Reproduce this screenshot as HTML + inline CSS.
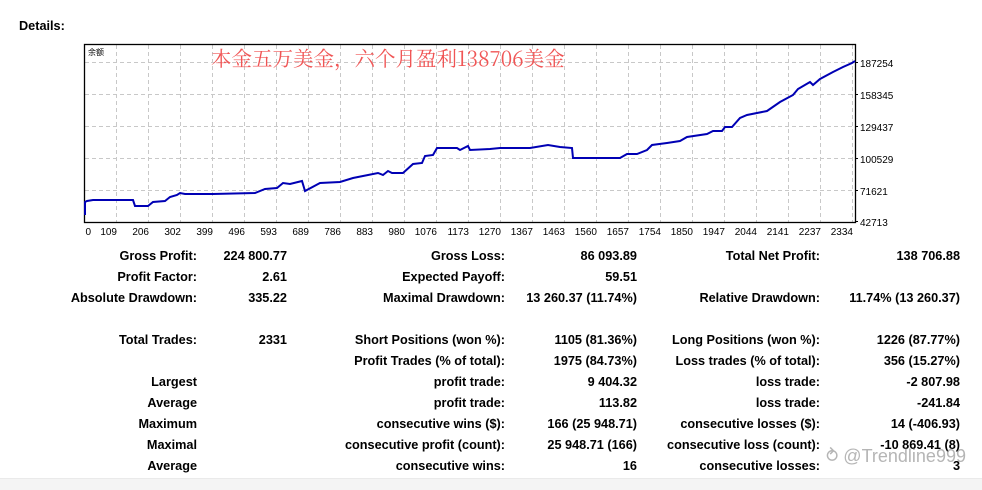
<!DOCTYPE html>
<html><head><meta charset="utf-8"><style>
body{margin:0;width:982px;height:489px;background:#fff;position:relative;overflow:hidden;font-family:"Liberation Sans","DejaVu Sans",sans-serif;}
.t{position:absolute;font-weight:bold;font-size:12.7px;color:#000;white-space:nowrap;line-height:14px;}
.r{text-align:right;}
</style></head><body>
<div class="t" style="left:19px;top:19px;">Details:</div>
<svg style="position:absolute;left:0;top:0" width="982" height="240" font-family="Liberation Sans, sans-serif">
<g stroke="#c8c8c8" stroke-dasharray="4,3" stroke-width="1">
<line x1="85" y1="62.5" x2="855" y2="62.5"/><line x1="85" y1="94.5" x2="855" y2="94.5"/><line x1="85" y1="126.5" x2="855" y2="126.5"/><line x1="85" y1="158.5" x2="855" y2="158.5"/><line x1="85" y1="190.5" x2="855" y2="190.5"/>
<line x1="116.5" y1="45" x2="116.5" y2="222"/><line x1="148.5" y1="45" x2="148.5" y2="222"/><line x1="180.5" y1="45" x2="180.5" y2="222"/><line x1="212.5" y1="45" x2="212.5" y2="222"/><line x1="244.5" y1="45" x2="244.5" y2="222"/><line x1="276.5" y1="45" x2="276.5" y2="222"/><line x1="308.5" y1="45" x2="308.5" y2="222"/><line x1="340.5" y1="45" x2="340.5" y2="222"/><line x1="372.5" y1="45" x2="372.5" y2="222"/><line x1="404.5" y1="45" x2="404.5" y2="222"/><line x1="436.5" y1="45" x2="436.5" y2="222"/><line x1="468.5" y1="45" x2="468.5" y2="222"/><line x1="500.5" y1="45" x2="500.5" y2="222"/><line x1="532.5" y1="45" x2="532.5" y2="222"/><line x1="564.5" y1="45" x2="564.5" y2="222"/><line x1="596.5" y1="45" x2="596.5" y2="222"/><line x1="628.5" y1="45" x2="628.5" y2="222"/><line x1="660.5" y1="45" x2="660.5" y2="222"/><line x1="692.5" y1="45" x2="692.5" y2="222"/><line x1="724.5" y1="45" x2="724.5" y2="222"/><line x1="756.5" y1="45" x2="756.5" y2="222"/><line x1="788.5" y1="45" x2="788.5" y2="222"/><line x1="820.5" y1="45" x2="820.5" y2="222"/><line x1="852.5" y1="45" x2="852.5" y2="222"/>
</g>
<rect x="84.5" y="44.5" width="771" height="178" fill="none" stroke="#000" stroke-width="1.3"/>
<g stroke="#000"><line x1="855" y1="62.5" x2="858" y2="62.5"/><line x1="855" y1="94.5" x2="858" y2="94.5"/><line x1="855" y1="126.5" x2="858" y2="126.5"/><line x1="855" y1="158.5" x2="858" y2="158.5"/><line x1="855" y1="190.5" x2="858" y2="190.5"/><line x1="855" y1="221.5" x2="858" y2="221.5"/></g>
<polyline fill="none" stroke="#0000b4" stroke-width="2" points="85,215 85,202 87,201 93,200 133,200 135,206 148,206 153,202 165,201 170,197 177,195 180,193 185,194 213,194 255,193 265,189 277,188 283,183 290,184 302,181 305,191 320,183 340,182 353,178 363,176 378,173 383,175 388,171 392,173 403,173 413,164 422,163 425,156 433,155 437,148 457,148 460,150 468,146 470,150 490,149 500,148 530,148 548,145 560,147 572,148 573,158 620,158 627,154 637,154 647,150 652,145 667,143 680,141 687,137 707,134 713,131 722,131 725,127 732,127 740,118 747,115 767,111 780,102 793,95 798,89 810,82 813,85 820,79 833,72 843,67 852,63 855,61"/>
<text x="88" y="55" font-size="8" fill="#000">余额</text>
<text x="211" y="66" font-size="20.5" fill="#f05555" font-family="Noto Serif CJK SC, serif">本金五万美金，六个月盈利138706美金</text>
<g font-size="10" fill="#000">
<text x="860" y="67">187254</text><text x="860" y="99">158345</text><text x="860" y="131">129437</text><text x="860" y="163">100529</text><text x="860" y="195">71621</text><text x="860" y="226">42713</text>
</g>
<g font-size="10" fill="#000" text-anchor="end">
<text x="91" y="235">0</text><text x="117" y="235">109</text><text x="149" y="235">206</text><text x="181" y="235">302</text><text x="213" y="235">399</text><text x="245" y="235">496</text><text x="277" y="235">593</text><text x="309" y="235">689</text><text x="341" y="235">786</text><text x="373" y="235">883</text><text x="405" y="235">980</text><text x="437" y="235">1076</text><text x="469" y="235">1173</text><text x="501" y="235">1270</text><text x="533" y="235">1367</text><text x="565" y="235">1463</text><text x="597" y="235">1560</text><text x="629" y="235">1657</text><text x="661" y="235">1754</text><text x="693" y="235">1850</text><text x="725" y="235">1947</text><text x="757" y="235">2044</text><text x="789" y="235">2141</text><text x="821" y="235">2237</text><text x="853" y="235">2334</text>
</g>
</svg>
<div style="position:absolute;left:0;top:478px;width:982px;height:11px;background:#f4f4f4;border-top:1px solid #eaeaea"></div>
<div style="position:absolute;left:0;top:249px;width:982px;">
<div class="t r" style="right:785px;top:0">Gross Profit:</div><div class="t r" style="right:695px;top:0">224 800.77</div>
<div class="t r" style="right:477px;top:0">Gross Loss:</div><div class="t r" style="right:345px;top:0">86 093.89</div>
<div class="t r" style="right:162px;top:0">Total Net Profit:</div><div class="t r" style="right:22px;top:0">138 706.88</div>

<div class="t r" style="right:785px;top:21px">Profit Factor:</div><div class="t r" style="right:695px;top:21px">2.61</div>
<div class="t r" style="right:477px;top:21px">Expected Payoff:</div><div class="t r" style="right:345px;top:21px">59.51</div>

<div class="t r" style="right:785px;top:42px">Absolute Drawdown:</div><div class="t r" style="right:695px;top:42px">335.22</div>
<div class="t r" style="right:477px;top:42px">Maximal Drawdown:</div><div class="t r" style="right:345px;top:42px">13 260.37 (11.74%)</div>
<div class="t r" style="right:162px;top:42px">Relative Drawdown:</div><div class="t r" style="right:22px;top:42px">11.74% (13 260.37)</div>

<div class="t r" style="right:785px;top:84px">Total Trades:</div><div class="t r" style="right:695px;top:84px">2331</div>
<div class="t r" style="right:477px;top:84px">Short Positions (won %):</div><div class="t r" style="right:345px;top:84px">1105 (81.36%)</div>
<div class="t r" style="right:162px;top:84px">Long Positions (won %):</div><div class="t r" style="right:22px;top:84px">1226 (87.77%)</div>

<div class="t r" style="right:477px;top:105px">Profit Trades (% of total):</div><div class="t r" style="right:345px;top:105px">1975 (84.73%)</div>
<div class="t r" style="right:162px;top:105px">Loss trades (% of total):</div><div class="t r" style="right:22px;top:105px">356 (15.27%)</div>

<div class="t r" style="right:785px;top:126px">Largest</div>
<div class="t r" style="right:477px;top:126px">profit trade:</div><div class="t r" style="right:345px;top:126px">9 404.32</div>
<div class="t r" style="right:162px;top:126px">loss trade:</div><div class="t r" style="right:22px;top:126px">-2 807.98</div>

<div class="t r" style="right:785px;top:147px">Average</div>
<div class="t r" style="right:477px;top:147px">profit trade:</div><div class="t r" style="right:345px;top:147px">113.82</div>
<div class="t r" style="right:162px;top:147px">loss trade:</div><div class="t r" style="right:22px;top:147px">-241.84</div>

<div class="t r" style="right:785px;top:168px">Maximum</div>
<div class="t r" style="right:477px;top:168px">consecutive wins ($):</div><div class="t r" style="right:345px;top:168px">166 (25 948.71)</div>
<div class="t r" style="right:162px;top:168px">consecutive losses ($):</div><div class="t r" style="right:22px;top:168px">14 (-406.93)</div>

<div class="t r" style="right:785px;top:189px">Maximal</div>
<div class="t r" style="right:477px;top:189px">consecutive profit (count):</div><div class="t r" style="right:345px;top:189px">25 948.71 (166)</div>
<div class="t r" style="right:162px;top:189px">consecutive loss (count):</div><div class="t r" style="right:22px;top:189px">-10 869.41 (8)</div>

<div class="t r" style="right:785px;top:210px">Average</div>
<div class="t r" style="right:477px;top:210px">consecutive wins:</div><div class="t r" style="right:345px;top:210px">16</div>
<div class="t r" style="right:162px;top:210px">consecutive losses:</div><div class="t r" style="right:22px;top:210px">3</div>
</div>
<div style="position:absolute;left:826px;top:446px;font-size:18px;color:rgba(150,150,150,0.7);font-family:'Liberation Sans',sans-serif;white-space:nowrap">&#x2941; @Trendline999</div>
</body></html>
